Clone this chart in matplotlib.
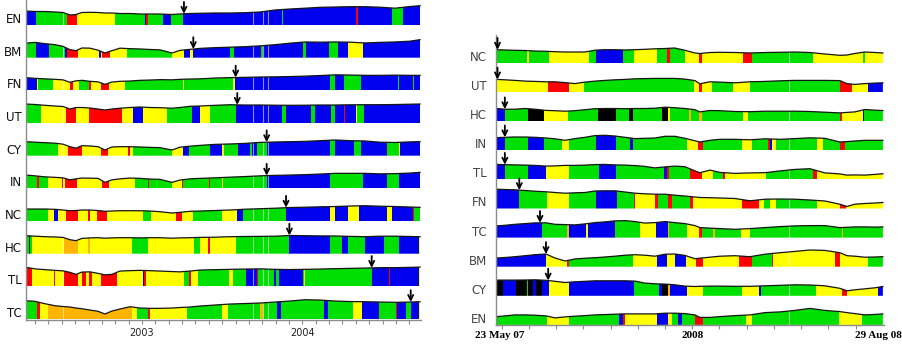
import numpy as np
import matplotlib.pyplot as plt
from matplotlib.patches import Polygon

# colour codes used in the segment lists
colours = {"g": "#00E000", "y": "#FFFF00", "r": "#FF0000", "b": "#0000EE",
           "k": "#000000", "o": "#FFB400"}

# ---------------- left panel: x in months since Jan 2002 ----------------
left_start, left_end = 3.32, 32.81
left_tick_pos = [12, 24]
left_tick_labels = ["2003", "2004"]
left_minor = list(range(4, 33))
left_gaps = [6.11, 20.31, 21.06, 21.43]
left_profile_x = [3.32, 3.99, 4.74, 5.49, 6.09, 6.61, 7.06, 7.51, 8.11, 8.71, 9.23, 9.75,
                  10.35, 11.10, 11.85, 12.60, 13.35, 14.25, 14.84, 15.59, 16.34, 17.46,
                  18.59, 19.71, 20.83, 21.96, 23.08, 24.20, 25.32, 26.45, 27.57, 28.69,
                  29.81, 30.94, 32.06, 32.81]

# segments: (colour, end month); each starts where the previous one ends
EN_L = [("y", 3.40), ("b", 4.07), ("g", 6.36), ("r", 7.16), ("y", 9.98), ("g", 12.22),
        ("b", 12.33), ("r", 12.45), ("g", 13.57), ("b", 14.17), ("g", 15.09), ("b", 22.48),
        ("g", 22.56), ("b", 28.05), ("r", 28.13), ("b", 30.71), ("g", 31.54), ("b", 32.81)]
EN_L_h = [14, 13.5, 13.5, 13, 12.5, 10, 10.5, 12.5, 12.7, 12.5, 12, 12, 11.5, 11.5, 11, 11,
          11, 10.5, 11, 11.5, 11.7, 12, 12, 12.3, 13, 15, 16, 16.8, 17.7, 18, 18.3, 18.3,
          17.8, 16.8, 18.5, 19.3]
EN_L_arrow = 15.14

BM_L = [("g", 4.07), ("b", 5.06), ("g", 6.24), ("b", 6.36), ("r", 7.19), ("y", 8.80),
        ("b", 8.90), ("y", 8.98), ("r", 9.60), ("y", 10.86), ("g", 14.22), ("y", 15.17),
        ("b", 15.59), ("y", 15.80), ("b", 18.59), ("g", 18.91), ("b", 20.88), ("g", 21.08),
        ("b", 24.03), ("g", 24.28), ("b", 26.02), ("g", 26.69), ("b", 27.44), ("y", 28.56),
        ("b", 32.81)]
BM_L_h = [14.5, 15.3, 14, 13, 11.3, 8, 7, 9.7, 9.5, 7.5, 4.7, 7, 9.5, 9, 8.7, 8.2, 7.8, 4.7,
          7.3, 8.3, 9.3, 10, 10.5, 11, 11.8, 13, 14.5, 15.7, 15.5, 15.7, 15.5, 14.7, 15.3,
          15.7, 16.5, 18]
BM_L_arrow = 15.84

FN_L = [("b", 4.16), ("y", 4.24), ("g", 5.36), ("y", 6.61), ("r", 6.86), ("y", 7.28),
        ("g", 8.06), ("r", 8.16), ("y", 8.91), ("r", 9.55), ("y", 10.73), ("g", 15.05),
        ("y", 15.14), ("g", 18.83), ("y", 18.96), ("b", 26.07), ("g", 26.45), ("b", 27.14),
        ("g", 28.37), ("b", 31.18), ("g", 31.26), ("b", 32.31), ("g", 32.38), ("b", 32.81)]
FN_L_h = [12.7, 12, 11.5, 11, 10.5, 8, 9.5, 10, 9, 8.5, 6, 8.3, 9, 9.3, 10, 10.3, 10.7, 10.5,
          11, 11.3, 11.5, 12.3, 12.7, 13, 13.3, 13.5, 13.8, 14.2, 14.8, 15.5, 15.3, 15, 15,
          15.2, 15, 15]
FN_L_arrow = 19.01

UT_L = [("g", 4.44), ("y", 6.29), ("r", 7.06), ("y", 8.06), ("r", 10.48), ("y", 11.30),
        ("b", 12.10), ("y", 13.85), ("g", 15.72), ("r", 15.78), ("b", 16.34), ("y", 17.09),
        ("g", 19.04), ("b", 22.46), ("g", 22.78), ("b", 24.65), ("g", 24.95), ("b", 26.12),
        ("g", 26.45), ("b", 27.12), ("r", 27.20), ("b", 28.00), ("y", 28.07), ("g", 28.64),
        ("b", 32.81)]
UT_L_h = [19, 18.5, 17.7, 17, 16.5, 14, 15.5, 15.5, 15, 14, 13, 14, 14.8, 15.5, 16, 15.5,
          15.3, 14.8, 15.5, 16.7, 17, 17.7, 18.3, 18, 18, 17.8, 17.7, 17.8, 18, 18, 18.2,
          18.3, 18.3, 18.5, 18.8, 19]
UT_L_arrow = 19.13

CY_L = [("g", 5.73), ("y", 6.44), ("r", 7.49), ("y", 8.93), ("r", 9.48), ("y", 10.97),
        ("r", 11.10), ("y", 11.30), ("g", 14.22), ("y", 15.09), ("b", 15.52), ("g", 17.09),
        ("b", 17.97), ("y", 18.14), ("g", 19.16), ("b", 20.08), ("g", 20.21), ("b", 20.59),
        ("g", 21.33), ("b", 26.07), ("g", 26.45), ("b", 27.89), ("g", 28.39), ("b", 30.36),
        ("g", 31.24), ("y", 31.29), ("b", 32.81)]
CY_L_h = [14, 13.5, 13, 12.5, 11.5, 9, 7.5, 10, 9.7, 9, 5.7, 8.7, 9, 9, 8.7, 8.3, 8, 5.7,
          8.5, 9.5, 10.3, 11.3, 11.7, 12.3, 13.3, 13.7, 14, 14.3, 15, 15.7, 15, 14.7, 13.5,
          13.2, 13.8, 14]
CY_L_arrow = 21.33

IN_L = [("g", 4.16), ("r", 4.27), ("g", 4.99), ("y", 5.99), ("r", 6.06), ("y", 6.24),
        ("r", 7.11), ("y", 8.98), ("r", 9.55), ("y", 11.48), ("g", 12.43), ("r", 12.52),
        ("g", 14.22), ("y", 14.97), ("r", 15.05), ("g", 17.04), ("r", 17.11), ("g", 17.97),
        ("y", 18.04), ("g", 21.33), ("b", 26.07), ("g", 28.56), ("b", 30.36), ("g", 31.24),
        ("b", 32.81)]
IN_L_h = [13.3, 12.5, 11.5, 11, 10.5, 8.5, 9.5, 10.3, 10.2, 10, 6, 8.5, 9.5, 10.3, 10, 9.3,
          9, 6, 8.3, 9.5, 10, 10.5, 11.2, 11.8, 12.5, 13, 13.3, 13.7, 14.3, 15, 15, 15, 14.5,
          14.7, 15.3, 16]
IN_L_arrow = 21.33

NC_L = [("g", 4.99), ("y", 5.43), ("b", 5.69), ("y", 6.31), ("r", 7.23), ("y", 7.94),
        ("r", 8.11), ("y", 8.61), ("r", 9.36), ("y", 12.05), ("g", 12.67), ("y", 14.54),
        ("r", 15.02), ("y", 15.84), ("g", 17.97), ("y", 19.09), ("b", 19.58), ("g", 22.78),
        ("b", 26.07), ("y", 26.45), ("b", 27.40), ("y", 28.26), ("b", 30.36), ("y", 30.69),
        ("b", 32.31), ("r", 32.38), ("g", 32.81)]
NC_L_h = [12, 12, 12, 11.7, 11, 10.3, 10.5, 11, 11, 10.5, 9.7, 10, 10.3, 10.3, 10.3, 10, 9.3,
          8, 8.7, 9.7, 10, 10.5, 11, 11.8, 12.3, 12.8, 13.5, 13.8, 14.2, 14.5, 15, 15.3, 14.8,
          14.5, 14, 13.7]
NC_L_arrow = 22.78

HC_L = [("g", 3.52), ("k", 3.60), ("g", 3.74), ("y", 6.18), ("o", 7.23), ("y", 7.98),
        ("o", 8.11), ("y", 11.23), ("g", 12.47), ("y", 15.91), ("g", 16.34), ("y", 16.96),
        ("r", 17.09), ("y", 19.04), ("g", 23.03), ("b", 26.07), ("g", 26.95), ("b", 27.40),
        ("g", 28.69), ("b", 30.11), ("g", 31.24), ("b", 32.76), ("y", 32.81)]
HC_L_h = [18, 17.5, 17, 16.7, 16.3, 14, 13, 15.3, 15.8, 16, 15.5, 15.8, 16, 16, 15.8, 16, 16,
          15.5, 15.8, 16, 16.3, 16.5, 17, 17.2, 17.3, 17.5, 18.2, 18, 17.8, 17.7, 17.3, 17,
          17.5, 17.5, 17.2, 17]
HC_L_arrow = 23.03

TL_L = [("r", 3.74), ("y", 5.41), ("r", 5.51), ("y", 6.16), ("r", 7.23), ("y", 7.49),
        ("r", 7.81), ("y", 8.06), ("r", 8.23), ("y", 8.93), ("r", 10.11), ("y", 12.05),
        ("b", 12.17), ("r", 12.30), ("y", 15.17), ("g", 15.52), ("r", 15.65), ("y", 16.21),
        ("g", 18.53), ("y", 18.79), ("g", 19.76), ("b", 20.59), ("r", 20.66), ("g", 21.88),
        ("b", 22.03), ("g", 22.28), ("b", 24.03), ("g", 24.13), ("y", 24.20), ("g", 29.19),
        ("b", 30.51), ("r", 30.56), ("b", 32.76), ("y", 32.81)]
TL_L_h = [19, 17.5, 16.7, 16, 15.5, 14, 12, 14.3, 14.5, 13, 11.5, 12, 15.3, 15.7, 16, 15.7,
          15.3, 14.8, 14.5, 15.3, 16.3, 16.7, 17, 17.3, 17.5, 17, 16.8, 17, 17.3, 17.7, 18,
          18.3, 18.7, 18.7, 19, 19.3]
TL_L_arrow = 29.19

TC_L = [("y", 3.42), ("g", 4.12), ("r", 4.37), ("y", 4.99), ("o", 11.23), ("y", 11.60),
        ("g", 12.47), ("r", 12.60), ("y", 15.35), ("g", 17.97), ("y", 18.46), ("g", 20.83),
        ("o", 21.08), ("g", 22.08), ("b", 22.40), ("g", 25.62), ("b", 25.94), ("g", 27.82),
        ("y", 28.44), ("b", 29.76), ("g", 31.01), ("r", 31.06), ("b", 31.74), ("g", 32.11),
        ("b", 32.76), ("y", 32.81)]
TC_L_h = [18.3, 17.7, 15.3, 13.3, 12.5, 12, 11, 10.3, 9, 7.7, 5, 8, 10, 12.3, 11, 10.7, 10.7,
          11, 11.5, 12, 13, 14, 15, 15.5, 16, 17, 18, 19.3, 19, 18, 17.5, 17.3, 17, 16.7, 17,
          17.3]
TC_L_arrow = 32.11

# ---------------- right panel: x in months since Jun 2007 ----------------
right_start, right_end = -0.18, 14.00
right_tick_pos = [-0.06, 7, 13.82]
right_tick_labels = ["23 May 07", "2008", "29 Aug 08"]
right_minor = list(range(0, 14))
right_gaps = [10.56]
right_profile_x = [-0.18, 0.12, 0.49, 0.86, 1.22, 1.63, 1.96, 2.33, 2.69, 3.06, 3.43, 3.79,
                   4.16, 4.53, 4.90, 5.26, 5.63, 6.00, 6.36, 6.73, 7.10, 7.28, 7.65, 8.02,
                   8.57, 9.12, 9.67, 10.22, 10.77, 11.32, 11.87, 12.42, 12.68, 12.97, 13.34,
                   13.71, 14.00]

NC_R = [("g", 0.94), ("y", 1.00), ("g", 1.75), ("y", 3.21), ("g", 3.46), ("b", 4.47),
        ("g", 4.86), ("y", 5.69), ("g", 6.08), ("r", 6.18), ("g", 6.73), ("y", 7.26),
        ("r", 7.35), ("y", 8.87), ("r", 9.18), ("g", 11.42), ("y", 13.26), ("g", 13.34),
        ("y", 14.00)]
NC_R_h = [13.3, 13, 12.7, 12.5, 12, 11.7, 11.3, 11, 11, 11, 12.8, 13.3, 13.3, 13, 13.3, 13.7,
          14.2, 14.5, 15, 12.7, 10, 9.5, 10.5, 10.7, 10.5, 10, 10.5, 10.7, 11, 10.5, 9, 7.7,
          8, 9.5, 11, 10.5, 10]
NC_R_arrow = -0.15

UT_R = [("y", 1.69), ("r", 2.47), ("y", 3.02), ("g", 7.07), ("y", 7.26), ("r", 7.35),
        ("y", 7.71), ("g", 8.48), ("y", 9.12), ("g", 12.42), ("r", 12.85), ("y", 13.46),
        ("b", 14.00)]
UT_R_h = [12.7, 12.3, 11.7, 11, 10.7, 10.3, 10.3, 9.5, 8.5, 10, 11, 11.7, 12.3, 12.7, 13.3,
          13.5, 13.7, 13.7, 13.7, 13, 11.5, 8.3, 10.3, 10, 9.3, 10.3, 10.7, 11.3, 11.7, 11.7,
          11.7, 11.5, 8.5, 7.7, 8.5, 9, 9.3]
UT_R_arrow = -0.15

HC_R = [("b", 0.12), ("g", 0.98), ("k", 1.57), ("y", 2.45), ("g", 3.55), ("k", 4.20),
        ("g", 4.68), ("k", 4.83), ("g", 5.90), ("k", 6.12), ("y", 6.18), ("g", 6.89),
        ("o", 6.94), ("g", 7.26), ("o", 7.35), ("g", 8.87), ("y", 9.06), ("g", 12.42),
        ("r", 12.49), ("y", 13.26), ("b", 13.30), ("g", 14.00)]
HC_R_h = [12.7, 12, 12, 12.7, 12, 10.8, 10.5, 10, 10.5, 11.5, 12.5, 12.7, 12.7, 12.5, 12.7,
          12.7, 13, 14, 13.5, 12.7, 11.5, 9.3, 10.7, 10.5, 9.7, 9.5, 10, 10, 10, 9.7, 9, 8.3,
          8.8, 9.3, 11.7, 11, 10.7]
HC_R_arrow = 0.12

IN_R = [("b", 0.12), ("g", 0.98), ("b", 1.57), ("g", 2.20), ("y", 2.47), ("g", 3.46),
        ("b", 4.20), ("g", 4.71), ("b", 4.83), ("g", 6.79), ("y", 7.22), ("r", 7.40),
        ("g", 8.81), ("y", 9.18), ("g", 9.79), ("r", 9.85), ("b", 9.92), ("y", 10.07),
        ("g", 11.57), ("y", 11.79), ("g", 12.42), ("r", 12.61), ("g", 14.00)]
IN_R_h = [12.7, 13, 13.3, 13.3, 13, 12.3, 11.5, 10, 11.7, 13, 14.7, 15, 14.3, 13, 11.7, 12,
          12.3, 14, 14, 12, 9.5, 8.3, 10, 11, 11, 10.5, 11.5, 11, 11.7, 12.5, 12, 8.3, 8.7,
          9.3, 10, 10, 10]
IN_R_arrow = 0.12

TL_R = [("b", 0.12), ("g", 0.98), ("b", 1.63), ("y", 2.47), ("g", 3.59), ("b", 4.19),
        ("g", 5.96), ("b", 6.06), ("r", 6.14), ("g", 6.92), ("r", 7.35), ("y", 7.77),
        ("g", 8.14), ("r", 8.20), ("y", 9.71), ("g", 11.44), ("r", 11.57), ("y", 14.00)]
TL_R_h = [15, 14.7, 14.5, 14.3, 14, 13.3, 13.5, 14, 14, 14.3, 14.8, 15, 14.5, 14.3, 13.8, 13,
          11.5, 12.5, 13.3, 12.7, 8.5, 6.7, 9.3, 7, 6, 6.5, 6.7, 8.5, 10, 10.7, 6.5, 5.5,
          4.3, 4.5, 4.3, 5, 5.7]
TL_R_arrow = 0.12

FN_R = [("b", 0.65), ("g", 1.65), ("y", 2.47), ("g", 3.46), ("b", 4.22), ("g", 4.86),
        ("r", 4.90), ("y", 5.63), ("r", 5.75), ("g", 6.12), ("r", 6.24), ("g", 6.92),
        ("r", 7.01), ("y", 8.81), ("r", 9.45), ("y", 9.63), ("g", 9.85), ("y", 10.07),
        ("g", 11.59), ("y", 12.42), ("r", 12.64), ("y", 14.00)]
FN_R_h = [19.3, 19, 18.7, 18, 17.3, 16.7, 16, 15.3, 15.7, 16, 17.5, 17.7, 17.7, 16.5, 15.3,
          14.7, 14.3, 14.3, 13.3, 12.5, 11.5, 11, 10.8, 10.5, 10, 7.7, 9.3, 9.5, 9.3, 8.5,
          7.5, 4.3, 2, 4.3, 5, 5.5, 6]
FN_R_arrow = 0.65

TC_R = [("b", 1.47), ("g", 2.41), ("o", 2.47), ("b", 3.10), ("y", 3.16), ("b", 4.16),
        ("g", 5.08), ("y", 5.67), ("b", 6.10), ("o", 6.16), ("g", 6.79), ("y", 7.26),
        ("r", 7.35), ("g", 7.77), ("o", 7.83), ("g", 8.79), ("y", 9.12), ("g", 12.49),
        ("o", 12.54), ("g", 14.00)]
TC_R_h = [11.7, 12.3, 13.3, 14, 14.7, 14.8, 13.3, 13, 12.7, 13.7, 15, 15.7, 16.7, 17, 16,
          14.5, 15, 16, 15, 14, 12, 10, 9.5, 9, 8.3, 9, 10, 11, 11.7, 12, 12, 10, 10.3, 10.7,
          10.7, 10.5, 10.7]
TC_R_arrow = 1.41

BM_R = [("b", 1.63), ("y", 2.41), ("r", 2.47), ("g", 4.83), ("y", 5.69), ("b", 6.08),
        ("y", 6.36), ("b", 6.77), ("y", 7.14), ("r", 7.38), ("y", 8.73), ("r", 9.18),
        ("g", 9.92), ("r", 9.97), ("y", 12.24), ("r", 12.42), ("y", 13.46), ("g", 14.00)]
BM_R_h = [8.7, 9.2, 10, 11, 12, 12.7, 8.7, 5.7, 7.7, 8.5, 9, 9.7, 10.5, 11.5, 12, 11.5, 10.5,
          12.5, 12.7, 11.3, 8, 8.5, 9.5, 10.5, 11, 10, 12.5, 14, 15.3, 16.7, 16.3, 14, 11,
          10.5, 9.5, 9.7, 10]
BM_R_arrow = 1.63

CY_R = [("k", 0.06), ("b", 0.53), ("k", 0.94), ("g", 0.98), ("k", 1.16), ("b", 1.25),
        ("k", 1.47), ("b", 1.75), ("y", 2.48), ("b", 4.86), ("g", 5.79), ("b", 5.88),
        ("k", 6.12), ("o", 6.18), ("b", 6.82), ("y", 7.38), ("g", 8.81), ("y", 9.46),
        ("b", 9.51), ("g", 11.54), ("y", 12.49), ("r", 12.67), ("y", 13.83), ("b", 14.00)]
CY_R_h = [15.7, 15.7, 15.7, 15.8, 16, 15.5, 14.5, 13.3, 14, 14.5, 15, 15, 15, 15, 14.7, 12.7,
          12, 11.7, 11, 9.7, 9.3, 9.5, 9.7, 9.7, 9.5, 9.5, 10, 10.5, 11, 10.8, 10, 7.5, 5, 6,
          7, 8, 9.3]
CY_R_arrow = 1.71

EN_R = [("g", 1.65), ("y", 2.48), ("g", 4.32), ("b", 4.47), ("r", 4.53), ("y", 5.69),
        ("b", 6.12), ("y", 6.24), ("g", 6.49), ("b", 6.61), ("g", 7.10), ("r", 7.40),
        ("g", 8.97), ("y", 9.18), ("g", 12.40), ("y", 13.22), ("g", 14.00)]
EN_R_h = [8.3, 9, 10, 10, 9.7, 9, 7, 8, 8.7, 9.3, 10, 10.3, 10.7, 11, 11, 11, 11, 11.7, 11.7,
          11.3, 10, 7.5, 7.5, 8.3, 9.3, 10, 12.3, 13, 14.5, 16.5, 14.5, 13.3, 12.3, 11.3, 10,
          10.5, 11]
EN_R_arrow = None

left_rows = [("EN", EN_L, EN_L_h, EN_L_arrow), ("BM", BM_L, BM_L_h, BM_L_arrow),
             ("FN", FN_L, FN_L_h, FN_L_arrow), ("UT", UT_L, UT_L_h, UT_L_arrow),
             ("CY", CY_L, CY_L_h, CY_L_arrow), ("IN", IN_L, IN_L_h, IN_L_arrow),
             ("NC", NC_L, NC_L_h, NC_L_arrow), ("HC", HC_L, HC_L_h, HC_L_arrow),
             ("TL", TL_L, TL_L_h, TL_L_arrow), ("TC", TC_L, TC_L_h, TC_L_arrow)]
right_rows = [("NC", NC_R, NC_R_h, NC_R_arrow), ("UT", UT_R, UT_R_h, UT_R_arrow),
              ("HC", HC_R, HC_R_h, HC_R_arrow), ("IN", IN_R, IN_R_h, IN_R_arrow),
              ("TL", TL_R, TL_R_h, TL_R_arrow), ("FN", FN_R, FN_R_h, FN_R_arrow),
              ("TC", TC_R, TC_R_h, TC_R_arrow), ("BM", BM_R, BM_R_h, BM_R_arrow),
              ("CY", CY_R, CY_R_h, CY_R_arrow), ("EN", EN_R, EN_R_h, EN_R_arrow)]


def draw_panel(ax, rows, x0, x1, prof_x, step, gaps, label_pad, label_color):
    for i, (name, segs, heights, arrow) in enumerate(rows):
        base = -i * step
        top = max(heights) + 2
        verts = [(x0, base)] + [(x, base + h) for x, h in zip(prof_x, heights)] + [(x1, base)]
        clip = Polygon(verts, closed=True, transform=ax.transData)
        starts = [x0] + [e for _, e in segs[:-1]]
        ranges = [(s, e - s) for s, (_, e) in zip(starts, segs)]
        bars = ax.broken_barh(ranges, (base, top), facecolors=[colours[c] for c, _ in segs],
                              linewidth=0, antialiased=False)
        bars.set_clip_path(clip)
        gl = ax.vlines(gaps, base, base + top, colors="white", lw=0.8, alpha=0.55)
        gl.set_clip_path(clip)
        ax.plot(prof_x, base + np.array(heights), color="#151515", lw=0.9)
        ax.annotate(name, xy=(0, base + 5.5), xycoords=("axes fraction", "data"),
                    xytext=(-label_pad, 0), textcoords="offset points",
                    ha="right", va="center", fontsize=8.5, color=label_color)
        if arrow is not None:
            tip = base + np.interp(arrow, prof_x, heights)
            ax.annotate("", xy=(arrow, tip), xytext=(0, 8.5), textcoords="offset points",
                        xycoords="data",
                        arrowprops=dict(arrowstyle="->", color="black", lw=1.3,
                                        shrinkA=0, shrinkB=0, mutation_scale=9))


def style_axis(ax):
    for side in ["top", "right"]:
        ax.spines[side].set_visible(False)
    for side in ["left", "bottom"]:
        ax.spines[side].set_color("#8c8c8c")
        ax.spines[side].set_linewidth(1.0)
    ax.set_yticks([])


fig = plt.figure(figsize=(9.03, 3.44), dpi=100)

# left panel
axl = fig.add_axes([26 / 903, 24 / 344, 395 / 903, 320 / 344])
draw_panel(axl, left_rows, left_start, left_end, left_profile_x, 32.67, left_gaps, 3, "#111111")
axl.set_xlim(3.32, 32.88)
axl.set_ylim(-295, 25)
style_axis(axl)
axl.set_xticks(left_tick_pos, labels=left_tick_labels)
axl.set_xticks(left_minor, minor=True)
axl.tick_params(axis="x", which="both", length=3, color="#8c8c8c", width=0.8,
                labelsize=7, labelcolor="#222222", pad=3)

# right panel
axr = fig.add_axes([496.5 / 903, 19 / 344, 388 / 903, 290 / 344])
draw_panel(axr, right_rows, right_start, right_end, right_profile_x, 29.1, right_gaps, 7,
           "#444444")
axr.set_xlim(-0.187, 14.06)
axr.set_ylim(-262, 28)
style_axis(axr)
axr.xaxis.remove_overlapping_locs = False
axr.set_xticks(right_tick_pos, labels=right_tick_labels)
axr.set_xticks(right_minor, minor=True)
axr.tick_params(axis="x", which="major", length=0, pad=4)
axr.tick_params(axis="x", which="minor", length=3, color="#8c8c8c", width=0.8)
for lab in axr.get_xticklabels():
    lab.set_fontfamily("Liberation Serif")
    lab.set_fontweight("bold")
    lab.set_fontsize(8)

fig.savefig("out.png", dpi=100)
